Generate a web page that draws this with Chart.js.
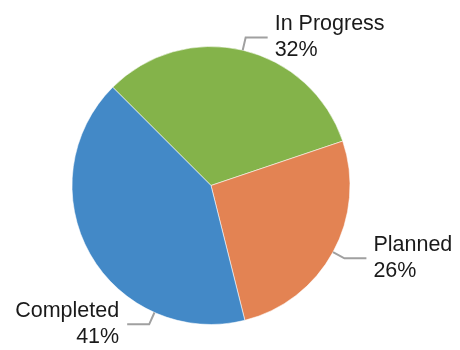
<!DOCTYPE html>
<html>
<head>
<meta charset="utf-8">
<script src="https://cdn.jsdelivr.net/npm/chart.js@4/dist/chart.umd.min.js"></script>
<style>
  html, body { margin: 0; padding: 0; background: #fff; }
  #wrap { width: 460px; height: 350px; }
</style>
</head>
<body>
<div id="wrap"><canvas id="statusPie" width="460" height="350"></canvas></div>
<script>
// Data
var categories = ['In Progress', 'Planned', 'Completed'];
var values = [32, 26, 41];
var sliceColors = ['#84b34a', '#e38353', '#4389c7'];

// where each leader line leaves the pie (degrees from 12 o'clock, null = middle of slice)
var labelAngles = [null, null, 204];

// Draws the two-line labels with an elbow leader line
var outsideLabels = {
    id: 'outsideLabels',
    afterDraw: function (chart) {
        var ctx = chart.ctx;
        var meta = chart.getDatasetMeta(0);
        var total = values.reduce(function (a, b) { return a + b; }, 0);
        ctx.save();
        ctx.font = '21.5px "Liberation Sans", Arial, sans-serif';
        ctx.textBaseline = 'middle';
        meta.data.forEach(function (arc, i) {
            var p = arc.getProps(['x', 'y', 'startAngle', 'endAngle', 'outerRadius'], true);
            var a = (p.startAngle + p.endAngle) / 2;
            if (labelAngles[i] !== null) {
                a = (labelAngles[i] - 90) * Math.PI / 180;
            }
            var x0 = p.x + Math.cos(a) * p.outerRadius;
            var y0 = p.y + Math.sin(a) * p.outerRadius;
            var x1 = p.x + Math.cos(a) * (p.outerRadius + 13);
            var y1 = p.y + Math.sin(a) * (p.outerRadius + 13);
            var right = Math.cos(a) >= 0;
            var x2 = x1 + (right ? 22 : -22);

            ctx.strokeStyle = '#a0a0a0';
            ctx.lineWidth = 2;
            ctx.beginPath();
            ctx.moveTo(x0, y0);
            ctx.lineTo(x1, y1);
            ctx.lineTo(x2, y1);
            ctx.stroke();

            var pct = Math.round(values[i] / total * 100) + '%';
            ctx.fillStyle = '#1a1a1a';
            ctx.textAlign = right ? 'left' : 'right';
            var tx = x2 + (right ? 7 : -8);
            ctx.fillText(categories[i], tx, y1 - 13);
            ctx.fillText(pct, tx, y1 + 13);
        });
        ctx.restore();
    }
};

var ctx = document.getElementById('statusPie').getContext('2d');

var statusChart = new Chart(ctx, {
    type: 'pie',
    data: {
        labels: categories,
        datasets: [{
            data: values,
            backgroundColor: sliceColors,
            borderColor: 'rgba(255,255,255,0.55)',
            borderWidth: 1
        }]
    },
    options: {
        responsive: false,
        animation: false,
        rotation: -45,
        layout: {
            padding: { left: 0, right: 38, top: 46, bottom: 25 }
        },
        plugins: {
            legend: { display: false },
            tooltip: { enabled: false }
        }
    },
    plugins: [outsideLabels]
});
</script>
</body>
</html>
